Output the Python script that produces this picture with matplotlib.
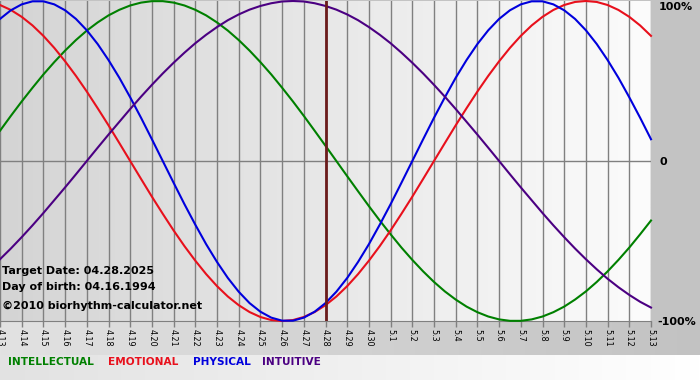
import numpy as np
import matplotlib
matplotlib.use('Agg')
import matplotlib.pyplot as plt
from matplotlib.colors import LinearSegmentedColormap

# dias del grafico (mes.dia)
dias = ['4.13', '4.14', '4.15', '4.16', '4.17', '4.18', '4.19', '4.20', '4.21', '4.22',
        '4.23', '4.24', '4.25', '4.26', '4.27', '4.28', '4.29', '4.30', '5.1', '5.2',
        '5.3', '5.4', '5.5', '5.6', '5.7', '5.8', '5.9', '5.10', '5.11', '5.12', '5.13']

physical = [0.888, 0.942, 0.979, 0.998, 0.998, 0.979, 0.942, 0.888, 0.817, 0.731,
            0.631, 0.520, 0.398, 0.270, 0.136, 0.000, -0.136, -0.270, -0.398, -0.520,
            -0.631, -0.731, -0.817, -0.888, -0.942, -0.979, -0.998, -0.998, -0.979, -0.942,
            -0.888, -0.817, -0.731, -0.631, -0.520, -0.398, -0.270, -0.136, 0.000, 0.136,
            0.270, 0.398, 0.520, 0.631, 0.731, 0.817, 0.888, 0.942, 0.979, 0.998,
            0.998, 0.979, 0.942, 0.888, 0.817, 0.731, 0.631, 0.520, 0.398, 0.270, 0.136]
emotional = [0.975, 0.944, 0.901, 0.847, 0.782, 0.707, 0.623, 0.532, 0.434, 0.330,
             0.223, 0.112, 0.000, -0.112, -0.223, -0.330, -0.434, -0.532, -0.623, -0.707,
             -0.782, -0.847, -0.901, -0.944, -0.975, -0.994, -1.000, -0.994, -0.975, -0.944,
             -0.901, -0.847, -0.782, -0.707, -0.623, -0.532, -0.434, -0.330, -0.223, -0.112,
             0.000, 0.112, 0.223, 0.330, 0.434, 0.532, 0.623, 0.707, 0.782, 0.847,
             0.901, 0.944, 0.975, 0.994, 1.000, 0.994, 0.975, 0.944, 0.901, 0.847, 0.782]
intellectual = [0.189, 0.282, 0.372, 0.458, 0.541, 0.618, 0.690, 0.756, 0.815, 0.866,
                0.910, 0.945, 0.972, 0.990, 0.999, 0.999, 0.990, 0.972, 0.945, 0.910,
                0.866, 0.815, 0.756, 0.690, 0.618, 0.541, 0.458, 0.372, 0.282, 0.189,
                0.095, 0.000, -0.095, -0.189, -0.282, -0.372, -0.458, -0.541, -0.618, -0.690,
                -0.756, -0.815, -0.866, -0.910, -0.945, -0.972, -0.990, -0.999, -0.999, -0.990,
                -0.972, -0.945, -0.910, -0.866, -0.815, -0.756, -0.690, -0.618, -0.541, -0.458, -0.372]
intuitive = [-0.614, -0.547, -0.476, -0.402, -0.325, -0.245, -0.165, -0.083, 0.000, 0.083,
             0.165, 0.245, 0.325, 0.402, 0.476, 0.547, 0.614, 0.677, 0.736, 0.789,
             0.837, 0.880, 0.916, 0.946, 0.969, 0.986, 0.997, 1.000, 0.997, 0.986,
             0.969, 0.946, 0.916, 0.880, 0.837, 0.789, 0.736, 0.677, 0.614, 0.547,
             0.476, 0.402, 0.325, 0.245, 0.165, 0.083, 0.000, -0.083, -0.165, -0.245,
             -0.325, -0.402, -0.476, -0.547, -0.614, -0.677, -0.736, -0.789, -0.837, -0.880, -0.916]

fecha_objetivo = '4.28'
texto_info = ['Target Date: 04.28.2025', 'Day of birth: 04.16.1994', '©2010 biorhythm-calculator.net']

series = [('INTELLECTUAL', intellectual, '#008000'),
          ('EMOTIONAL', emotional, '#e8101c'),
          ('PHYSICAL', physical, '#0000dd'),
          ('INTUITIVE', intuitive, '#4b0082')]

W, H = 700, 380
fig = plt.figure(figsize=(W / 100, H / 100), dpi=100)

# fondo de toda la figura
bg = fig.add_axes([0, 0, 1, 1], zorder=-1)
bg.set_xlim(0, W)
bg.set_ylim(H, 0)
bg.axis('off')
grad = np.linspace(0, 1, 256).reshape(1, -1)
bg.imshow(np.zeros((1, 1)), cmap=LinearSegmentedColormap.from_list('r', ['#c3c3c3', '#c3c3c3']),
          extent=(0, W, 355, 0), aspect='auto')
bg.imshow(grad, cmap=LinearSegmentedColormap.from_list('b', ['#e2e2e2', '#c2c2c2']),
          extent=(0, W, 355, 321), aspect='auto')
bg.imshow(grad, cmap=LinearSegmentedColormap.from_list('l', ['#e2e2e2', '#ffffff']),
          extent=(0, W, H, 355), aspect='auto')

ax = fig.add_axes([0, 59 / H, 651 / W, 320 / H])
ax.patch.set_alpha(0)
x_dias = np.arange(len(dias))
ax.imshow(grad, cmap=LinearSegmentedColormap.from_list('p', ['#d4d4d4', '#fcfcfc']),
          extent=(0, len(dias) - 1, -1, 1), aspect='auto', zorder=0)

for nombre, valores, color in series:
    x = np.arange(len(valores)) / 2
    ax.plot(x, valores, color=color, lw=1.5, zorder=3, clip_on=False)

ax.axvline(dias.index(fecha_objetivo), color='#6b1c1c', lw=2, zorder=4)
ax.axhline(0, color='#808080', lw=1, zorder=1)

ax.set_xlim(0, len(dias) - 1)
ax.set_ylim(-1, 1)
ax.set_xticks(x_dias)
ax.set_xticklabels(dias)
ax.grid(axis='x', color='#808080', lw=1)
ax.tick_params(axis='x', direction='out', length=4, width=1, color='#808080',
               labelsize=5.8, pad=2, labelrotation=-90)
ax.set_yticks([])
for lado in ['top', 'left', 'right']:
    ax.spines[lado].set_visible(False)
ax.spines['bottom'].set_color('#808080')

# textos de la derecha
fig.text(659 / W, 1 - 7 / H, '100%', fontsize=8, fontweight='bold', va='center')
fig.text(660 / W, 1 - 162 / H, '0', fontsize=8, fontweight='bold', va='center')
fig.text(657 / W, 1 - 322 / H, '-100%', fontsize=8, fontweight='bold', va='center')

# info de fechas
for i, t in enumerate(texto_info):
    y = [271, 287, 306][i]
    fig.text(2 / W, 1 - y / H, t, fontsize=8, fontweight='bold', va='center')

# leyenda
pos_x = [8, 108, 193, 262]
for (nombre, valores, color), px in zip(series, pos_x):
    fig.text(px / W, 1 - 362 / H, nombre, fontsize=7.6, fontweight='bold', color=color, va='center')

fig.savefig('out.png', dpi=100)
